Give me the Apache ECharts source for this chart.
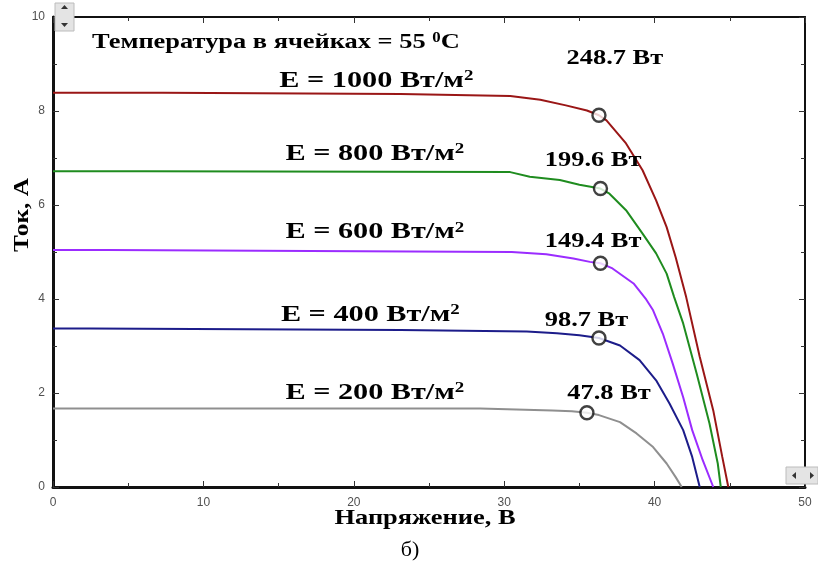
<!DOCTYPE html>
<html>
<head>
<meta charset="utf-8">
<script src="https://cdn.jsdelivr.net/npm/echarts@6/dist/echarts.min.js"></script>
<style>
  html, body { margin: 0; padding: 0; background: #fff; }
  #chart { width: 818px; height: 571px; }
</style>
</head>
<body>
<div id="chart"></div>
<script>
// ВАХ модуля при разной освещённости, температура ячеек 55 C
// точки [напряжение, В ; ток, А]
const curve1000 = [[0, 8.39], [7.3, 8.39], [7.3, 8.36], [23.1, 8.36], [23.1, 8.33], [30.4, 8.32], [32.4, 8.24], [34.1, 8.12], [35.5, 8.01], [36.3, 7.91], [36.8, 7.80], [38.1, 7.31], [39.2, 6.74], [40.1, 6.10], [40.8, 5.53], [41.4, 4.89], [42.1, 4.04], [43.0, 2.77], [43.9, 1.63], [44.5, 0.64], [44.9, 0]]
const curve800 = [[0, 6.72], [6.1, 6.72], [6.1, 6.70], [30.4, 6.70], [30.4, 6.66], [31.7, 6.60], [33.7, 6.53], [35.0, 6.43], [36.4, 6.35], [37.0, 6.24], [38.1, 5.89], [39.2, 5.39], [40.1, 4.97], [40.8, 4.54], [41.3, 4.04], [41.9, 3.48], [42.8, 2.41], [43.65, 1.35], [44.2, 0.50], [44.4, 0]]
const curve600 = [[0, 5.04], [3.7, 5.04], [3.7, 5.01], [30.5, 5.00], [30.5, 4.97], [32.8, 4.95], [34.6, 4.86], [35.7, 4.79], [36.4, 4.76], [37.2, 4.65], [38.6, 4.33], [39.4, 4.01], [39.9, 3.76], [40.55, 3.26], [41.2, 2.63], [41.9, 1.91], [42.5, 1.21], [43.2, 0.57], [43.9, 0]]
const curve400 = [[0, 3.37], [2.5, 3.37], [2.5, 3.34], [23.1, 3.34], [23.1, 3.32], [31.5, 3.31], [33.5, 3.27], [35.0, 3.23], [36.3, 3.17], [37.7, 3.01], [39.0, 2.70], [40.1, 2.27], [41.0, 1.77], [41.9, 1.21], [42.5, 0.64], [43.0, 0]]
const curve200 = [[0, 1.67], [28.4, 1.67], [28.4, 1.64], [33.2, 1.63], [34.5, 1.61], [35.5, 1.58], [36.3, 1.53], [37.7, 1.38], [38.8, 1.14], [39.9, 0.85], [40.8, 0.50], [41.4, 0.21], [41.8, 0]]

// точки максимальной мощности
const mppVoltage = [36.3, 36.4, 36.4, 36.3, 35.5]
const mppCurrent = [7.91, 6.35, 4.76, 3.17, 1.58]
const mppPower = ['248.7 Вт', '199.6 Вт', '149.4 Вт', '98.7 Вт', '47.8 Вт']
const irradiance = ['1000', '800', '600', '400', '200']

const xTicks = [0, 10, 20, 30, 40, 50]
const yTicks = [0, 2, 4, 6, 8, 10]

const colors = ['#9a1616', '#1f8c1f', '#9b2cff', '#1c1c8a', '#8f8f8f']
const curves = [curve1000, curve800, curve600, curve400, curve200]

const serif = "'Liberation Serif', 'Times New Roman', serif"
const tickFont = { color: '#505050', fontSize: 12, fontFamily: 'Arial, Liberation Sans, sans-serif' }

const chart = echarts.init(document.getElementById('chart'))

const axisCommon = {
  type: 'value',
  splitLine: { show: false },
  axisLine: { show: true, onZero: false, lineStyle: { color: '#111', width: 2 } },
  axisTick: { show: true, inside: true, length: 6, lineStyle: { color: '#333', width: 1 } },
  minorTick: { show: true, splitNumber: 2, length: 4, lineStyle: { color: '#333' } },
  axisLabel: { show: false }
}

const option = {
  animation: false,
  backgroundColor: '#fff',
  grid: { left: 53, right: 13, top: 17, bottom: 84 },
  xAxis: [
    {
      ...axisCommon,
      min: xTicks[0],
      max: xTicks[xTicks.length - 1],
      interval: 10,
      position: 'bottom',
      axisLine: { show: true, onZero: false, lineStyle: { color: '#111', width: 3 } },
      axisLabel: { show: true, ...tickFont, margin: 10 }
    },
    {
      ...axisCommon,
      min: xTicks[0],
      max: xTicks[xTicks.length - 1],
      interval: 10,
      position: 'top'
    }
  ],
  yAxis: [
    {
      ...axisCommon,
      min: yTicks[0],
      max: yTicks[yTicks.length - 1],
      interval: 2,
      position: 'left',
      axisLine: { show: true, onZero: false, lineStyle: { color: '#111', width: 3 } },
      axisLabel: { show: true, ...tickFont, margin: 8 }
    },
    {
      ...axisCommon,
      min: yTicks[0],
      max: yTicks[yTicks.length - 1],
      interval: 2,
      position: 'right'
    }
  ],
  series: [
    ...curves.map((c, i) => ({
      name: 'E = ' + irradiance[i],
      type: 'line',
      data: c,
      showSymbol: false,
      lineStyle: { color: colors[i], width: 2 },
      z: 2
    })),
    {
      name: 'Pmax',
      type: 'scatter',
      data: mppVoltage.map((v, i) => [v, mppCurrent[i]]),
      symbol: 'circle',
      symbolSize: 13,
      itemStyle: { color: '#fff', borderColor: '#111', borderWidth: 2.4 },
      z: 5
    }
  ]
}

chart.setOption(option)

// подписи в координатах графика
const toPx = (x, y) => chart.convertToPixel({ gridIndex: 0 }, [x, y])

const makeRich = (size) => ({
  b: { fontFamily: serif, fontWeight: 'bold', fontSize: size, fill: '#000', color: '#000' },
  s: { fontFamily: serif, fontWeight: 'bold', fontSize: Math.round(size * 0.62), fill: '#000', color: '#000', verticalAlign: 'top' }
})

const textEl = (pos, text, align, size, sx) => ({
  type: 'text',
  x: pos[0],
  y: pos[1],
  scaleX: sx,
  z: 10,
  style: {
    text: text,
    rich: makeRich(size),
    align: align,
    verticalAlign: 'middle',
    textAlign: align,
    textVerticalAlign: 'middle'
  }
})

// якоря подписей (В, А)
const ePos = [[21.5, 8.65], [21.4, 7.10], [21.4, 5.42], [21.1, 3.67], [21.4, 2.01]]
const pPos = [[34.15, 9.12], [32.7, 6.95], [32.7, 5.23], [32.7, 3.55], [34.2, 1.99]]

const graphics = []
graphics.push(textEl(toPx(2.6, 9.46), '{b|Температура в ячейках = 55 }{s|0}{b|C}', 'left', 22, 1.2))
irradiance.forEach((e, i) => {
  graphics.push(textEl(toPx(ePos[i][0], ePos[i][1]), '{b|E = ' + e + ' Вт/м}{s|2}', 'center', 24, 1.26))
  graphics.push(textEl(toPx(pPos[i][0], pPos[i][1]), '{b|' + mppPower[i] + '}', 'left', 22, 1.2))
})

// названия осей и подпись рисунка
const bottomCenter = toPx(25, 0)
graphics.push(textEl([bottomCenter[0] - 4, 518], '{b|Напряжение, В}', 'center', 22, 1.2))
graphics.push(Object.assign(textEl([22, 215], '{b|Ток, А}', 'center', 22, 1.15), { rotation: Math.PI / 2 }))
graphics.push({
  type: 'text',
  x: 410,
  y: 550,
  style: {
    text: 'б)', font: '22px ' + serif, fill: '#000',
    align: 'center', verticalAlign: 'middle', textAlign: 'center', textVerticalAlign: 'middle'
  }
})

// кнопки прокрутки (как в исходном окне)
graphics.push(
  { type: 'rect', shape: { x: 55, y: 3, width: 19, height: 28 }, style: { fill: '#e4e4e4', stroke: '#bcbcbc' }, z: 20 },
  { type: 'polygon', shape: { points: [[61, 9], [68, 9], [64.5, 5]] }, style: { fill: '#333' }, z: 21 },
  { type: 'polygon', shape: { points: [[61, 23], [68, 23], [64.5, 27]] }, style: { fill: '#333' }, z: 21 },
  { type: 'rect', shape: { x: 786, y: 467, width: 32, height: 17 }, style: { fill: '#e4e4e4', stroke: '#bcbcbc' }, z: 20 },
  { type: 'polygon', shape: { points: [[796, 472], [796, 479], [792, 475.5]] }, style: { fill: '#333' }, z: 21 },
  { type: 'polygon', shape: { points: [[810, 472], [810, 479], [814, 475.5]] }, style: { fill: '#333' }, z: 21 }
)

chart.setOption({ graphic: graphics })

window.addEventListener('resize', () => chart.resize())
</script>
</body>
</html>
